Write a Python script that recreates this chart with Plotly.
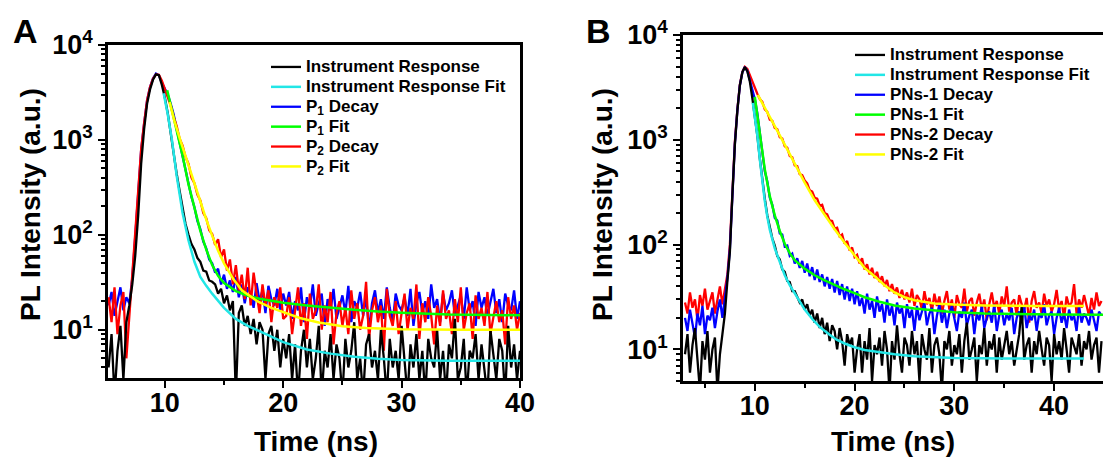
import numpy as np
import plotly.graph_objects as go

# ---------------- data ----------------
TIME_A = np.round(np.arange(5.25, 40.001, 0.25), 2)
TIME_B = np.round(np.arange(3.0, 44.751, 0.25), 2)

BLACK_A = [4, 9, 2, 6, 11, 3, 12, 18,
           30, 60, 160, 560, 1300, 2400, 3400, 4300, 4900, 4800,
           3800, 2800, 1900, 1150, 700, 440, 290, 190, 130,
           100, 80, 70, 57, 52, 42, 41, 33, 32,
           30, 24, 27, 19, 23, 16, 20, 2, 15, 18, 11, 14, 9, 13, 7, 12, 10, 3, 9, 11, 6, 10, 4, 8,
           5, 9, 3, 7, 2, 6, 10, 4, 8, 3, 5, 11, 2, 6, 4, 9, 3, 7, 5, 2,
           8, 4, 6, 12, 3, 5, 2, 7, 9, 4, 6, 3, 10, 5, 2, 8, 4, 6, 3, 11,
           5, 2, 7, 4, 9, 3, 6, 2, 8, 5, 4, 10, 3, 6, 2, 7, 5, 13, 3, 4,
           8, 2, 6, 5, 9, 3, 7, 4, 2, 10, 5, 3, 8, 6, 2, 11, 4, 7, 3, 6]

RED_A = [22, 12, 28, 9, 18, 25, 5, 14,
         40, 110, 320, 800, 1500, 2600, 3600, 4400, 4900, 4850,
         4200, 3450, 2750, 2300, 1750, 1400, 1030, 870, 660, 560, 400, 350, 265, 230, 170, 150, 112, 102,
         78, 90, 58, 70, 42, 55, 30, 48, 26, 38, 21, 45, 18, 40, 24, 15, 30, 18, 26, 12, 22, 17, 28, 13,
         14, 22, 9, 17, 28, 11, 19, 8, 24, 13, 16, 30, 10, 18, 12, 25, 7, 15, 20, 11,
         17, 9, 26, 13, 19, 10, 14, 32, 8, 16, 22, 12, 18, 6, 27, 14, 11, 20, 9, 15,
         24, 10, 17, 13, 30, 8, 19, 12, 22, 14, 7, 18, 11, 26, 13, 16, 9, 21, 12, 28,
         10, 15, 19, 8, 23, 13, 17, 11, 25, 9, 14, 20, 12, 16, 7, 22, 13, 18, 10, 15]

BLUE_A = [18, 25, 14, 20, 28, 16, 22, 19,
          35, 95, 300, 780, 1480, 2600, 3600, 4450, 5000, 4800,
          4000, 3400, 3000, 2400, 1850, 1300, 930, 700, 460, 350, 250, 195, 140, 115, 85, 72, 55, 50,
          40, 44, 30, 38, 27, 33, 25, 36, 22, 30, 19, 28, 24, 17, 31, 20, 26, 15, 29, 21, 18, 27, 16, 24,
          18, 25, 13, 20, 16, 28, 12, 22, 17, 30, 14, 19, 24, 11, 21, 16, 27, 13, 18, 23,
          15, 29, 12, 20, 17, 25, 14, 22, 10, 19, 26, 15, 21, 13, 28, 17, 12, 24, 18, 16,
          22, 14, 27, 11, 19, 25, 15, 20, 13, 30, 17, 21, 12, 24, 16, 19, 26, 14, 18, 23,
          13, 28, 16, 20, 11, 25, 17, 22, 14, 19, 27, 15, 21, 12, 24, 18, 16, 26, 13, 20]

CYAN_A_T = [9.9, 10.25, 10.6, 11.0, 11.5, 12.0, 12.5, 13.0, 13.5, 14.0, 15.0, 16.0, 17.0, 18.0,
            19.0, 20.0, 22.0, 24.0, 26.0, 28.0, 30.0, 34.0, 40.0]
CYAN_A = [3100, 1850, 1000, 420, 170, 87, 52, 36, 29, 24, 17, 13, 11, 9.6, 8.5, 7.4, 6.2, 5.6,
          5.2, 4.95, 4.8, 4.72, 4.7]
GREEN_A_T = [10.2, 10.6, 11.0, 11.5, 12.0, 12.5, 13.0, 13.5, 14.0, 14.5, 15.0, 16.0, 17.0, 18.0,
             19.0, 20.0, 22.0, 24.0, 26.0, 28.0, 30.0, 34.0, 40.0]
GREEN_A = [3330, 2040, 1250, 680, 340, 190, 110, 70, 48, 37, 31, 25.5, 22.8, 21.2, 20.1, 19.2,
           18.0, 17.0, 16.2, 15.6, 15.1, 14.5, 14.2]
YELLOW_A_T = [10.4, 10.8, 11.3, 11.8, 12.3, 13.0, 13.5, 14.0, 14.5, 15.0, 15.8, 16.5, 17.8, 19.0,
              20.0, 21.4, 23.0, 25.0, 27.0, 30.0, 35.0, 40.0]
YELLOW_A = [2500, 1600, 1000, 640, 400, 220, 145, 98, 68, 50, 34, 26, 20, 17, 15.3, 13.3, 11.9,
            10.9, 10.4, 10.1, 10.0, 10.0]

BLACK_B = [9, 14, 6, 11, 16, 7, 4, 12, 8, 15, 6, 10, 13, 4, 9, 14,
           22, 45, 85, 300, 900, 1900, 3300, 4400, 4950, 4500, 3600,
           2500, 1700, 1100, 660, 400, 275, 190, 150, 115, 98, 78, 72, 58, 55, 45, 44, 36, 36,
           32, 28, 30, 24, 27, 21, 24, 18, 22, 16, 20, 14, 18, 12, 17, 15, 10, 16, 12, 7, 14, 11, 13, 6,
           10, 14, 6, 12, 8, 16, 5, 11, 9, 13, 7, 15, 10, 4, 12, 8, 17, 9, 6, 13,
           11, 7, 15, 9, 12, 5, 14, 10, 8, 16, 6, 11, 13, 9, 4, 12, 10, 15, 7, 11,
           9, 14, 6, 12, 18, 8, 10, 13, 5, 11, 9, 16, 7, 12, 10, 14, 6, 13, 8, 11,
           15, 9, 12, 7, 10, 14, 26, 8, 11, 13, 6, 12, 9, 15, 10, 7, 13, 11, 5, 14,
           9, 12, 8, 16, 10, 6, 13, 11, 9, 14, 7, 12, 10, 15, 8, 11, 13, 6, 12]

BLUE_B = [20, 15, 24, 18, 13, 22, 17, 26, 14, 21, 19, 25, 16, 23, 30, 20,
          30, 48, 90, 310, 920, 1920, 3300, 4400, 4950, 4550, 3700,
          2900, 2450, 1800, 1150, 830, 500, 400, 280, 240, 180, 170, 128, 125, 96, 98, 78, 82, 66,
          74, 60, 70, 54, 66, 50, 61, 46, 58, 44, 52, 40, 49, 38, 47, 35, 45, 33, 42, 30, 40, 29, 38, 27,
          36, 26, 31, 22, 34, 24, 29, 20, 32, 23, 27, 18, 30, 21, 26, 17, 28, 22, 25, 16,
          27, 20, 24, 15, 26, 19, 23, 28, 17, 22, 25, 14, 21, 27, 18, 24, 16, 22, 26, 19,
          15, 23, 20, 28, 17, 21, 24, 14, 22, 19, 26, 16, 20, 23, 18, 27, 15, 21, 24, 17,
          22, 19, 25, 14, 20, 23, 18, 26, 16, 21, 19, 24, 15, 22, 20, 27, 17, 21, 23, 14,
          20, 25, 18, 22, 16, 24, 19, 21, 15, 26, 18, 22, 20, 17, 24, 19, 15, 23, 21]

RED_B = [28, 22, 35, 25, 30, 19, 33, 26, 38, 24, 29, 35, 22, 31, 40, 27,
         36, 52, 100, 340, 960, 1950, 3350, 4450, 4980, 4750, 4100,
         3550, 3050, 2750, 2450, 2300, 1950, 1850, 1560, 1520, 1300, 1260, 1060, 1030, 870, 840, 700, 680, 570,
         560, 470, 460, 410, 385, 330, 320, 280, 275, 235, 240, 200, 195, 170, 168, 142, 145, 120, 125, 102,
         108, 88, 94, 76,
         80, 66, 74, 58, 65, 52, 60, 48,
         55, 44, 50, 40, 46, 36, 42, 34, 39, 31, 37, 30,
         35, 28, 38, 26, 33, 30, 24, 36, 27, 31, 23, 34,
         26, 32, 22, 29, 36, 24, 30, 20, 33, 27, 25, 38, 23, 29, 31, 21, 28, 34, 24, 30,
         19, 27, 35, 25, 29, 22, 32, 26, 40, 23, 28, 30, 21, 33, 27, 24, 31, 18, 29, 36,
         25, 28, 22, 34, 26, 30, 23, 27, 37, 24, 29, 20, 32, 26, 28, 42, 22, 30, 25, 33,
         27, 21, 31, 24, 35, 26, 29]

CYAN_B_T = [9.8, 10.0, 10.25, 10.5, 10.75, 11.0, 11.25, 11.5, 12.0, 12.5, 13.0, 13.5, 14.0, 14.5,
            15.0, 15.8, 16.5, 17.5, 18.2, 19.0, 20.0, 21.0, 22.5, 24.0, 26.0, 28.0, 30.0, 35.0, 43.0]
CYAN_B = [2250, 1700, 1100, 650, 400, 260, 185, 139, 92, 67, 51, 41, 34, 28.5, 24, 19.3, 16.4,
          13.8, 12.4, 11.4, 10.5, 9.9, 9.4, 9.0, 8.6, 8.4, 8.3, 8.2, 8.2]
GREEN_B_T = [10.0, 10.5, 11.0, 11.5, 12.0, 12.5, 13.0, 13.5, 14.0, 15.0, 16.0, 17.0, 18.0, 19.0,
             20.0, 21.0, 22.5, 24.0, 26.0, 28.0, 30.0, 33.0, 36.0, 40.0, 44.9]
GREEN_B = [2570, 1200, 520, 290, 190, 135, 102, 83, 71, 59, 51, 45.5, 41, 37.5, 34.5, 31.5, 28.5,
           26.3, 24.6, 23.5, 22.7, 22.0, 21.7, 21.5, 21.4]
YELLOW_B_T = [10.3, 11.0, 12.0, 13.0, 14.0, 15.0, 16.0, 17.0, 18.0, 19.0, 20.0, 21.0, 22.0, 23.0,
              24.0, 25.0, 26.0, 27.0, 28.0, 30.0, 33.0, 38.0, 43.0]
YELLOW_B = [2680, 2000, 1350, 900, 590, 390, 265, 190, 140, 104, 78, 60, 50, 41, 35, 31.5, 29.5,
            28.3, 27.5, 26.8, 26.3, 26.0, 26.0]

LEGEND_A = ["Instrument Response", "Instrument Response Fit", "P<sub>1</sub> Decay",
            "P<sub>1</sub> Fit", "P<sub>2</sub> Decay", "P<sub>2</sub> Fit"]
LEGEND_B = ["Instrument Response", "Instrument Response Fit", "PNs-1 Decay",
            "PNs-1 Fit", "PNs-2 Decay", "PNs-2 Fit"]

for arr in (BLACK_A, RED_A, BLUE_A):
    assert len(arr) == len(TIME_A), len(arr)
for arr in (BLACK_B, RED_B, BLUE_B):
    assert len(arr) == len(TIME_B), len(arr)

# ---------------- styling ----------------
W, H = 1103, 459
FONT = "Liberation Sans, Arial, sans-serif"
C_BLACK, C_CYAN, C_BLUE = "#000000", "#22E6E6", "#0000FF"
C_GREEN, C_RED, C_YELLOW = "#00FF00", "#FF0000", "#FFFF00"
LEG_TXT = '<span style="font-size:17px">{}</span>'


def px_x(p):
    return p / W


def px_y(p):
    return 1 - p / H


fig = go.Figure()


def add(x, y, name, color, width, rank, xa, ya, leg):
    fig.add_trace(go.Scatter(x=x, y=y, mode="lines", name=LEG_TXT.format(name), legendrank=rank,
                             line=dict(color=color, width=width), xaxis=xa, yaxis=ya,
                             legend=leg, hoverinfo="skip"))


# Panel A (draw order: blue, red, black, fits)
add(TIME_A, BLUE_A, LEGEND_A[2], C_BLUE, 2.3, 3, "x", "y", "legend")
add(TIME_A, RED_A, LEGEND_A[4], C_RED, 2.3, 5, "x", "y", "legend")
add(TIME_A, BLACK_A, LEGEND_A[0], C_BLACK, 2.3, 1, "x", "y", "legend")
add(CYAN_A_T, CYAN_A, LEGEND_A[1], C_CYAN, 2.5, 2, "x", "y", "legend")
add(GREEN_A_T, GREEN_A, LEGEND_A[3], C_GREEN, 2.5, 4, "x", "y", "legend")
add(YELLOW_A_T, YELLOW_A, LEGEND_A[5], C_YELLOW, 2.5, 6, "x", "y", "legend")

# Panel B (draw order: red, blue, black, fits)
add(TIME_B, RED_B, LEGEND_B[4], C_RED, 2.3, 5, "x2", "y2", "legend2")
add(TIME_B, BLUE_B, LEGEND_B[2], C_BLUE, 2.3, 3, "x2", "y2", "legend2")
add(TIME_B, BLACK_B, LEGEND_B[0], C_BLACK, 2.3, 1, "x2", "y2", "legend2")
add(CYAN_B_T, CYAN_B, LEGEND_B[1], C_CYAN, 2.5, 2, "x2", "y2", "legend2")
add(GREEN_B_T, GREEN_B, LEGEND_B[3], C_GREEN, 2.5, 4, "x2", "y2", "legend2")
add(YELLOW_B_T, YELLOW_B, LEGEND_B[5], C_YELLOW, 2.5, 6, "x2", "y2", "legend2")

major_y = [10, 100, 1000, 10000]
major_txt = ["10<sup>1</sup>", "10<sup>2</sup>", "10<sup>3</sup>", "10<sup>4</sup>"]
minor_y = [k * 10 ** d for d in range(0, 4) for k in range(2, 10)]

tickfont = dict(family=FONT, size=27, color="black", weight="bold")


def xaxis(dom, rng, anchor):
    return dict(domain=dom, range=rng, anchor=anchor, automargin=False, showline=True,
                linecolor="black", linewidth=2.5, mirror=True, ticks="outside", ticklen=7,
                tickwidth=2, tickcolor="black", dtick=10, tick0=0, tickfont=tickfont,
                ticklabelstandoff=-8, showgrid=False, zeroline=False,
                minor=dict(ticks="outside", ticklen=4, tickwidth=2, tickcolor="black", dtick=5,
                           tick0=0, showgrid=False))


def yaxis(dom, rng, anchor):
    return dict(domain=dom, type="log", range=rng, anchor=anchor, automargin=False,
                showline=True, linecolor="black", linewidth=2.5, mirror=True, ticks="outside",
                ticklen=7, tickwidth=2, tickcolor="black", tickvals=major_y, ticktext=major_txt,
                tickfont=tickfont, showgrid=False, zeroline=False,
                minor=dict(ticks="outside", ticklen=4, tickwidth=1.5, tickcolor="black",
                           tickvals=minor_y, showgrid=False))


legfont = dict(family=FONT, size=13, color="black", weight="bold")

fig.update_layout(
    template="none",
    width=W, height=H, margin=dict(l=0, r=0, t=0, b=0, pad=0, autoexpand=False),
    paper_bgcolor="white", plot_bgcolor="white", showlegend=True,
    xaxis=xaxis([px_x(108), px_x(520)], [5.2, 40], "y"),
    yaxis=yaxis([px_y(378), px_y(45)], [np.log10(3.1), 4], "x"),
    xaxis2=xaxis([px_x(683), 1.0], [2.8, 44.9], "y2"),
    yaxis2=yaxis([px_y(381), px_y(35)], [np.log10(5), 4], "x2"),
    legend=dict(x=px_x(266), y=px_y(52), xanchor="left", yanchor="top", font=legfont,
                bgcolor="rgba(0,0,0,0)", borderwidth=0, traceorder="normal"),
    legend2=dict(x=px_x(850), y=px_y(40), xanchor="left", yanchor="top", font=legfont,
                 bgcolor="rgba(0,0,0,0)", borderwidth=0, traceorder="normal"),
)

title_font = dict(family=FONT, size=28, color="black", weight="bold")
letter_font = dict(family=FONT, size=34, color="black", weight="bold")
ann = [
    dict(text="A", x=px_x(25), y=px_y(31), font=letter_font),
    dict(text="B", x=px_x(598), y=px_y(31), font=letter_font),
    dict(text="PL Intensity (a.u.)", x=px_x(30), y=px_y(205), textangle=-90, font=title_font),
    dict(text="PL Intensity (a.u.)", x=px_x(602), y=px_y(205), textangle=-90, font=title_font),
    dict(text="Time (ns)", x=px_x(316), y=px_y(441), font=title_font),
    dict(text="Time (ns)", x=px_x(893), y=px_y(441), font=title_font),
]
for a in ann:
    fig.add_annotation(xref="paper", yref="paper", showarrow=False, xanchor="center",
                       yanchor="middle", **a)

fig.write_html("out.html", config={"displayModeBar": False},
               post_script="document.body.style.margin='0px';document.body.style.overflow='hidden';")
